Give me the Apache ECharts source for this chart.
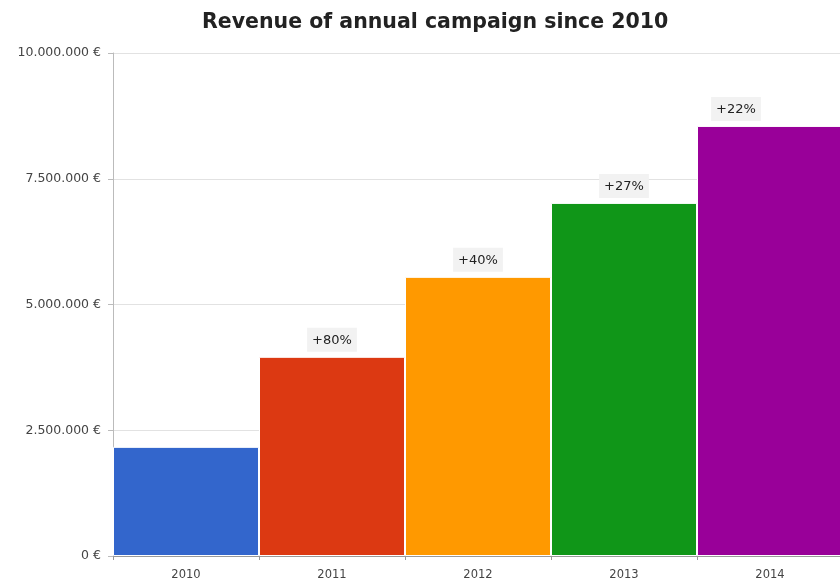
<!DOCTYPE html>
<html>
<head>
<meta charset="utf-8">
<script src="https://cdn.jsdelivr.net/npm/echarts@6/dist/echarts.min.js"></script>
<style>html,body{margin:0;padding:0;background:#fff;overflow:hidden}#c{width:850px;height:583px}</style>
</head>
<body>
<div id="c"></div>
<script>
var categories = ['2010', '2011', '2012', '2013', '2014'];
var revenue = [2170000, 3960000, 5550000, 7020000, 8550000];
var growthLabels = ['', '+80%', '+40%', '+27%', '+22%'];
var colors = ['#3366cc', '#dc3912', '#ff9900', '#109618', '#990099'];
var yTicks = [0, 2500000, 5000000, 7500000, 10000000];

function fmt(v) {
  return String(Math.round(v)).replace(/\B(?=(\d{3})+(?!\d))/g, '.') + ' €';
}

var labelOffsets = [[0, 0], [0, 0], [0, 0], [0, 0], [-34, 0]];
var FONT = 'DejaVu Sans, Liberation Sans, Arial';

var chart = echarts.init(document.getElementById('c'));
chart.setOption({
  animation: false,
  title: {
    text: 'Revenue of annual campaign since 2010',
    left: 197,
    top: 7,
    textStyle: { fontFamily: FONT, fontSize: 20.5, fontWeight: 'bold', color: '#222' }
  },
  grid: { left: 113, right: 7, top: 53, bottom: 27 },
  xAxis: {
    type: 'category',
    data: categories,
    axisLine: { lineStyle: { color: '#999' } },
    axisTick: { show: true, alignWithLabel: false, length: 4, lineStyle: { color: '#999' } },
    axisLabel: { fontFamily: FONT, fontSize: 11.5, color: '#444', margin: 13 }
  },
  yAxis: {
    type: 'value',
    min: yTicks[0],
    max: yTicks[yTicks.length - 1],
    interval: yTicks[1] - yTicks[0],
    axisLine: { show: true, lineStyle: { color: '#bbb' } },
    axisTick: { show: true, length: 5, lineStyle: { color: '#bbb' } },
    splitLine: { lineStyle: { color: '#e2e2e2' } },
    axisLabel: { fontFamily: FONT, fontSize: 12.5, color: '#444', margin: 12, formatter: fmt }
  },
  series: [{
    type: 'bar',
    barCategoryGap: '0%',
    data: revenue.map(function (v, i) {
      return {
        value: v,
        itemStyle: { color: colors[i], borderColor: '#fff', borderWidth: 1 },
        label: {
          show: growthLabels[i] !== '',
          formatter: growthLabels[i],
          position: 'top',
          distance: 5,
          offset: labelOffsets[i],
          fontFamily: FONT,
          fontSize: 13,
          color: '#222',
          backgroundColor: '#f2f2f2',
          padding: [6, 5, 5, 5]
        }
      };
    })
  }]
});
</script>
</body>
</html>
